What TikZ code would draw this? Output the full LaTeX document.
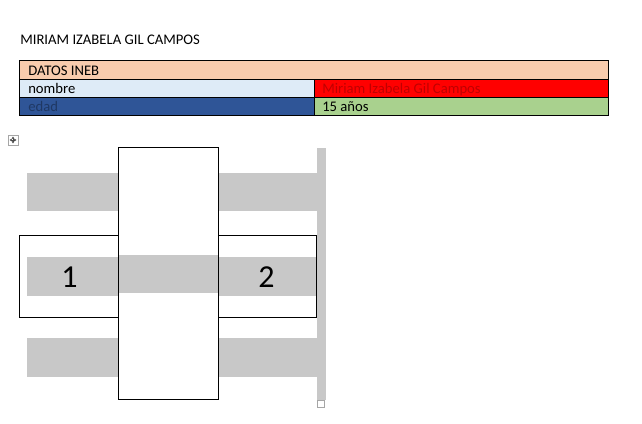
\documentclass[tikz,border=0pt]{standalone}
\usepackage{fontspec}
\setmainfont{Carlito}
\usetikzlibrary{arrows.meta}
\definecolor{peach}{HTML}{F8CBAD}
\definecolor{lightblue}{HTML}{DEEBF7}
\definecolor{darkblue}{HTML}{2F5597}
\definecolor{navytext}{HTML}{1F3864}
\definecolor{redcell}{HTML}{FF0000}
\definecolor{redtext}{HTML}{C00000}
\definecolor{greencell}{HTML}{A9D18E}
\definecolor{bargray}{HTML}{C8C8C8}
\begin{document}
\begin{tikzpicture}[x=0.75pt,y=-0.75pt,
  celltext/.style={anchor=base west,inner sep=0pt,font=\fontsize{11pt}{13pt}\selectfont},
  cellbox/.style={draw=black,line width=0.75pt},
  bar/.style={fill=bargray,draw=none},
  outline/.style={draw=black,line width=0.75pt,outer sep=0pt,inner sep=0pt,anchor=north west},
  handlearrow/.style={black!70,line width=0.6pt,-{Stealth[length=2pt,width=2pt]}},
  bignum/.style={anchor=base,inner sep=0pt,font=\fontsize{24pt}{28pt}\selectfont}]
\useasboundingbox[fill=white] (0,0) rectangle (642,424);

% title
\node[celltext] (title) at (20,45) {MIRIAM IZABELA GIL CAMPOS};

% table
\path[cellbox,fill=peach] (19,61) rectangle (608,80);
\path[cellbox,fill=lightblue] (19,80) rectangle (314,98);
\path[cellbox,fill=redcell] (314,80) rectangle (608,98);
\path[cellbox,fill=darkblue] (19,98) rectangle (314,116);
\path[cellbox,fill=greencell] (314,98) rectangle (608,116);
\node[celltext] (datos) at (28,76) {DATOS INEB};
\node[celltext] (nombre) at (28,94) {nombre};
\node[celltext,text=redtext] (nomval) at (322,94) {Miriam Izabela Gil Campos};
\node[celltext,text=navytext] (edad) at (28,112) {edad};
\node[celltext] (edadval) at (322,112) {15 años};

% move handle icon
\draw[gray!70,line width=0.5pt,fill=white] (8,135) rectangle (18,145);
\draw[handlearrow] (13,140) -- (13,136.5);
\draw[handlearrow] (13,140) -- (13,143.5);
\draw[handlearrow] (13,140) -- (9.5,140);
\draw[handlearrow] (13,140) -- (16.5,140);

% gray bars (top and bottom, behind the centre box)
\path[bar] (27,173) rectangle (317,211);
\path[bar] (27,338) rectangle (317,377);
\path[bar] (317,148) rectangle (326,400);
% side parts of middle bar
\path[bar] (27,257) rectangle (317,296);

% boxes
\node[outline,draw=none,fill=white,minimum width=75pt,minimum height=188.25pt] (centre) at (118,148) {};
\path[bar] (118,255) rectangle (218,293);
\draw[black,line width=0.75pt] (centre.north west) rectangle (centre.south east);
\node[outline,minimum width=74.25pt,minimum height=61.5pt] (left) at (19,235) {};
\node[outline,minimum width=73.5pt,minimum height=61.5pt] (right) at (218,235) {};

\node[bignum] (one) at (69.5,287) {1};
\node[bignum] (two) at (266.5,287) {2};

% small resize handle
\draw[gray!70,line width=0.5pt,fill=white] (317,400) rectangle (324,407);
\end{tikzpicture}
\end{document}
